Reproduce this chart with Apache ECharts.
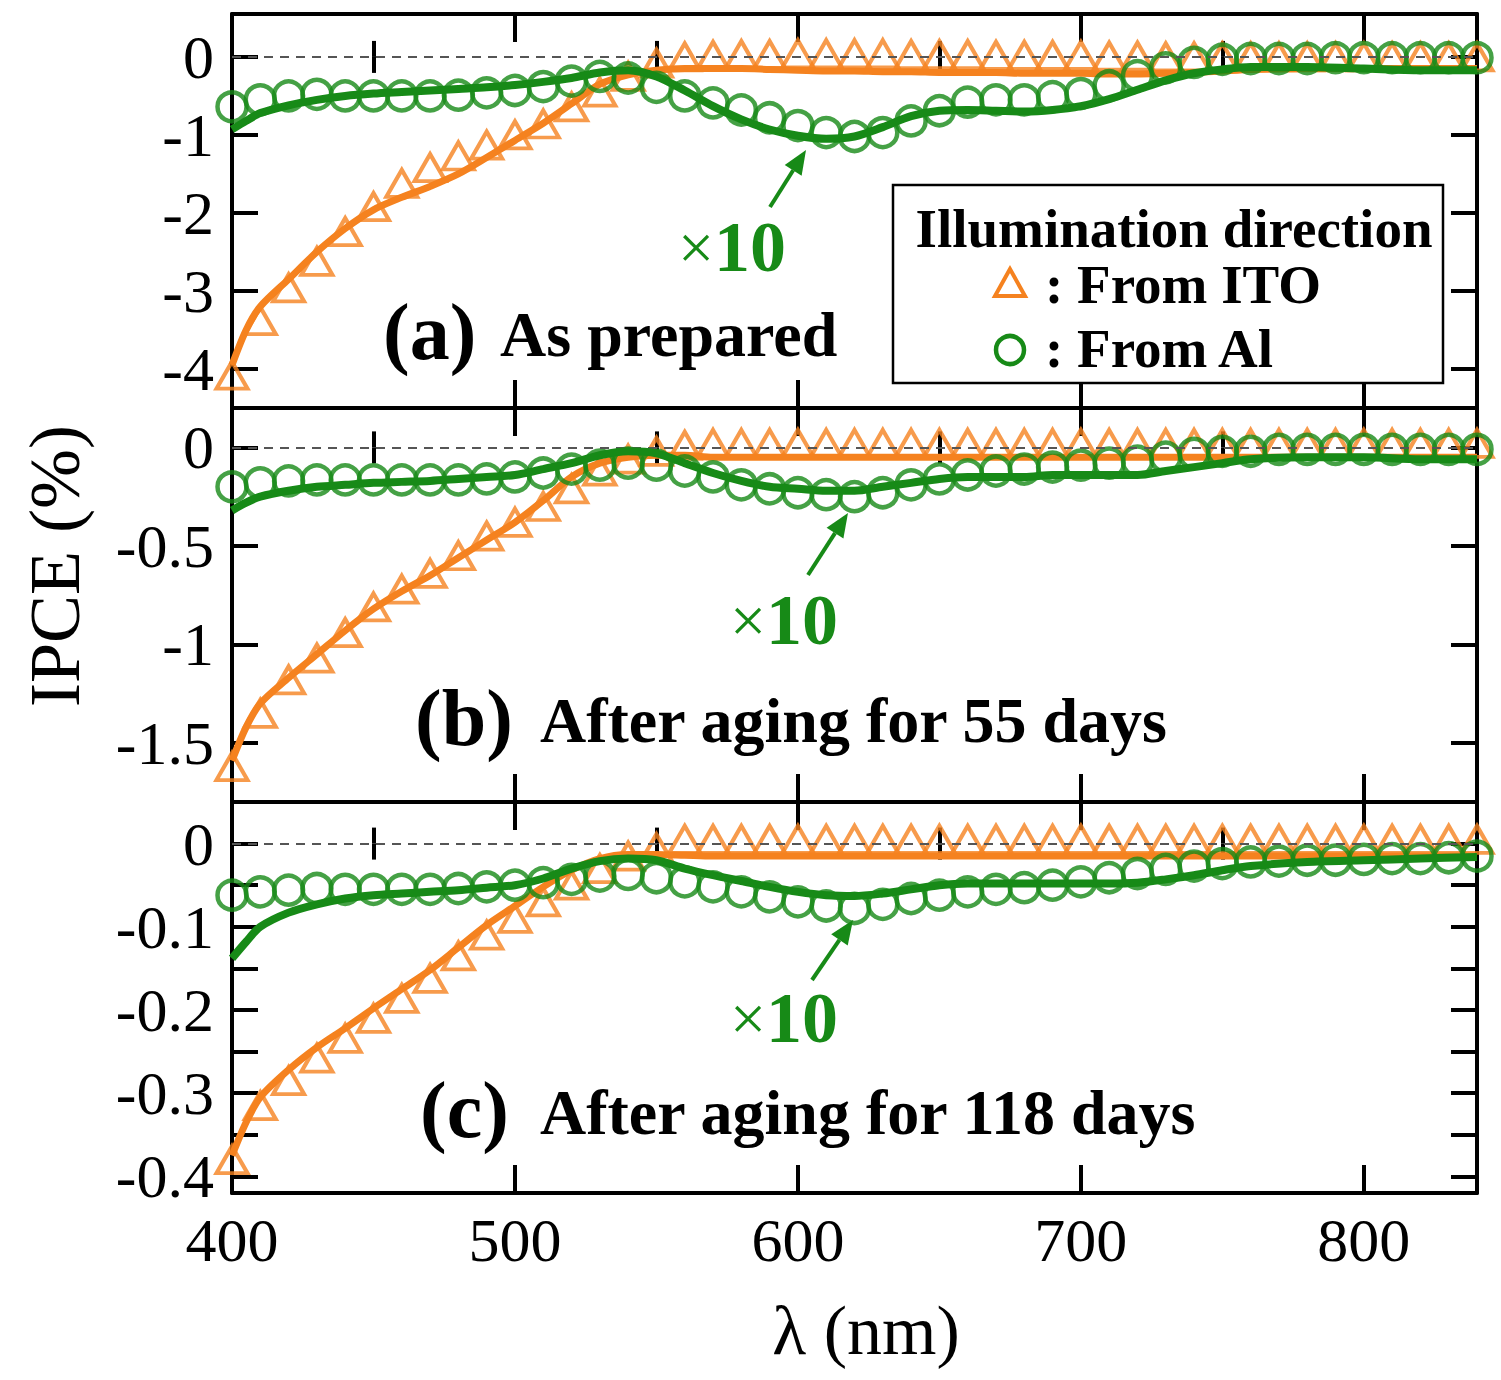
<!DOCTYPE html>
<html>
<head>
<meta charset="utf-8">
<title>IPCE spectra</title>
<script src="https://cdn.jsdelivr.net/npm/echarts@6/dist/echarts.min.js"></script>
<style>
  html, body { margin: 0; padding: 0; background: #fff; }
  #main { width: 1501px; height: 1380px; }
</style>
</head>
<body>
<div id="main"></div>
<script>
// wavelength of measured points (nm)
var pointNm = [400,410,420,430,440,450,460,470,480,490,500,510,520,530,540,550,560,570,580,590,
  600,610,620,630,640,650,660,670,680,690,700,710,720,730,740,750,760,770,780,790,800,810,820,830,840];
// wavelength of calculated curves (nm)
var curveNm = [400,405,410,420,430,440,450,460,470,480,490,500,510,520,530,540,550,560,570,580,590,
  600,610,620,630,640,650,660,670,680,690,700,710,720,730,740,750,760,780,800,820,840];

// (a) as prepared
var aItoPts = [-4.08,-3.38,-2.96,-2.62,-2.24,-1.92,-1.62,-1.42,-1.27,-1.13,
  -1.00,-0.86,-0.64,-0.45,-0.25,-0.08,0.00,0.02,0.03,0.03,
  0.04,0.04,0.04,0.04,0.03,0.03,0.03,0.02,0.02,0.02,
  0.02,0.01,0.01,0.00,0.00,0.00,0.00,0.00,0.00,0.00,
  0.00,0.00,0.00,0.00,0.00];
var aAlPts = [-0.64,-0.55,-0.50,-0.48,-0.50,-0.50,-0.50,-0.50,-0.49,-0.46,
  -0.43,-0.38,-0.31,-0.25,-0.27,-0.39,-0.50,-0.59,-0.68,-0.78,
  -0.88,-0.97,-1.02,-0.97,-0.82,-0.69,-0.58,-0.55,-0.55,-0.51,
  -0.47,-0.37,-0.24,-0.14,-0.07,-0.03,-0.02,-0.02,-0.02,-0.01,
  -0.01,-0.01,-0.01,-0.01,-0.01];
var aItoFit = [-3.95,-3.50,-3.20,-2.85,-2.50,-2.20,-1.96,-1.80,-1.66,-1.50,-1.29,-1.07,-0.85,-0.60,-0.35,-0.23,
  -0.17,-0.15,-0.15,-0.15,-0.16,-0.17,-0.18,-0.18,-0.19,-0.19,-0.20,-0.20,-0.20,-0.21,-0.21,-0.21,
  -0.22,-0.22,-0.21,-0.20,-0.18,-0.16,-0.15,-0.15,-0.15,-0.15];
var aAlFit = [-0.93,-0.82,-0.72,-0.62,-0.55,-0.50,-0.47,-0.45,-0.43,-0.41,-0.39,-0.36,-0.32,-0.27,-0.20,-0.17,
  -0.25,-0.43,-0.63,-0.80,-0.93,-1.01,-1.05,-1.02,-0.90,-0.76,-0.69,-0.68,-0.69,-0.70,-0.68,-0.63,
  -0.54,-0.42,-0.30,-0.21,-0.16,-0.13,-0.13,-0.15,-0.17,-0.17];

// (b) after aging for 55 days
var bItoPts = [-1.62,-1.35,-1.18,-1.07,-0.94,-0.81,-0.72,-0.64,-0.55,-0.45,
  -0.38,-0.30,-0.21,-0.12,-0.06,-0.02,0.01,0.02,0.02,0.02,
  0.02,0.02,0.02,0.02,0.02,0.02,0.02,0.02,0.02,0.02,
  0.02,0.02,0.02,0.02,0.02,0.02,0.02,0.02,0.02,0.02,
  0.02,0.02,0.02,0.02,0.02];
var bAlPts = [-0.20,-0.18,-0.17,-0.165,-0.165,-0.165,-0.165,-0.165,-0.165,-0.16,
  -0.15,-0.13,-0.11,-0.09,-0.08,-0.09,-0.12,-0.15,-0.19,-0.21,
  -0.23,-0.24,-0.25,-0.23,-0.19,-0.16,-0.14,-0.12,-0.11,-0.10,
  -0.09,-0.08,-0.07,-0.05,-0.03,-0.02,-0.02,-0.01,-0.01,-0.01,
  -0.01,-0.01,-0.01,-0.01,-0.01];
var bItoFit = [-1.59,-1.42,-1.30,-1.17,-1.05,-0.93,-0.82,-0.73,-0.65,-0.56,-0.47,-0.38,-0.27,-0.15,-0.08,-0.05,
  -0.04,-0.04,-0.05,-0.05,-0.05,-0.05,-0.05,-0.05,-0.05,-0.05,-0.05,-0.05,-0.05,-0.05,-0.05,-0.05,
  -0.05,-0.05,-0.05,-0.05,-0.05,-0.05,-0.05,-0.05,-0.05,-0.05];
var bAlFit = [-0.32,-0.28,-0.25,-0.22,-0.20,-0.19,-0.18,-0.175,-0.17,-0.16,-0.15,-0.14,-0.11,-0.08,-0.04,-0.02,
  -0.03,-0.08,-0.13,-0.17,-0.20,-0.21,-0.22,-0.22,-0.20,-0.18,-0.16,-0.15,-0.15,-0.15,-0.14,-0.14,
  -0.14,-0.14,-0.12,-0.10,-0.08,-0.06,-0.05,-0.05,-0.06,-0.06];

// (c) after aging for 118 days
var cItoPts = [-0.380,-0.315,-0.285,-0.258,-0.234,-0.210,-0.186,-0.162,-0.135,-0.110,
  -0.090,-0.070,-0.050,-0.030,-0.015,-0.005,0.005,0.005,0.005,0.005,
  0.005,0.005,0.005,0.005,0.005,0.005,0.005,0.005,0.005,0.005,
  0.005,0.005,0.005,0.005,0.005,0.005,0.005,0.005,0.005,0.005,
  0.005,0.005,0.005,0.005,0.005];
var cAlPts = [-0.062,-0.058,-0.056,-0.054,-0.055,-0.055,-0.055,-0.055,-0.054,-0.052,
  -0.050,-0.047,-0.043,-0.039,-0.037,-0.041,-0.046,-0.052,-0.058,-0.064,
  -0.070,-0.075,-0.078,-0.073,-0.066,-0.062,-0.058,-0.055,-0.053,-0.050,
  -0.046,-0.041,-0.036,-0.031,-0.027,-0.024,-0.022,-0.021,-0.020,-0.020,
  -0.019,-0.018,-0.018,-0.017,-0.015];
var cItoFit = [-0.375,-0.335,-0.305,-0.272,-0.245,-0.222,-0.198,-0.175,-0.152,-0.125,-0.098,-0.075,-0.052,-0.032,-0.018,-0.013,
  -0.013,-0.014,-0.015,-0.015,-0.015,-0.015,-0.015,-0.015,-0.015,-0.015,-0.015,-0.015,-0.015,-0.015,-0.015,-0.015,
  -0.015,-0.015,-0.015,-0.015,-0.015,-0.015,-0.015,-0.015,-0.015,-0.015];
var cAlFit = [-0.138,-0.118,-0.100,-0.083,-0.073,-0.066,-0.062,-0.060,-0.058,-0.056,-0.053,-0.050,-0.042,-0.030,-0.021,-0.018,
  -0.020,-0.030,-0.038,-0.045,-0.052,-0.058,-0.062,-0.063,-0.060,-0.055,-0.050,-0.048,-0.048,-0.048,-0.048,-0.048,
  -0.048,-0.047,-0.043,-0.038,-0.032,-0.027,-0.022,-0.020,-0.018,-0.016];

// tick values
var xLabels = [400, 500, 600, 700, 800];
var xMajor = [400, 500, 600, 700, 800];
var xMinor = [450, 550, 650, 750];
var aTicks = [0, -1, -2, -3, -4];
var bTicks = [0, -0.5, -1, -1.5];
var cLabels = [0, -0.1, -0.2, -0.3, -0.4];
var cTicks = [0, -0.05, -0.1, -0.15, -0.2, -0.25, -0.3, -0.35, -0.4];

var panelTags = ['(a)', '(b)', '(c)'];
var panelTitles = ['As prepared', 'After aging for 55 days', 'After aging for 118 days'];

var ORANGE = '#f5821f';
var GREEN = '#178a17';
var SERIF = "'Liberation Serif', 'Times New Roman', serif";

function pairs(xs, ys) {
  return xs.map(function (x, i) { return [x, ys[i]]; });
}

var grids = [
  { left: 232, top: 14, width: 1245, height: 394 },
  { left: 232, top: 408, width: 1245, height: 394 },
  { left: 232, top: 802, width: 1245, height: 391 }
];
var yRange = [[-4.5, 0.55], [-1.8, 0.2], [-0.42, 0.05]];
var yTickSets = [aTicks, bTicks, cTicks];
var yLabelSets = [aTicks, bTicks, cLabels];

var blackLine = { color: '#000', width: 4 };

function xAxesFor(i) {
  var list = [];
  ['bottom', 'top'].forEach(function (pos) {
    list.push({
      type: 'value', gridIndex: i, position: pos, min: 400, max: 840,
      axisLine: { onZero: false, lineStyle: blackLine },
      axisTick: { inside: true, length: 28, customValues: xMajor, lineStyle: blackLine },
      axisLabel: {
        show: i === 2 && pos === 'bottom', customValues: xLabels, margin: 16,
        color: '#000', fontSize: 62, fontFamily: SERIF
      },
      splitLine: { show: false }
    });
    list.push({
      type: 'value', gridIndex: i, position: pos, min: 400, max: 840,
      axisLine: { show: false },
      axisTick: { inside: true, length: 16, customValues: xMinor, lineStyle: blackLine },
      axisLabel: { show: false },
      splitLine: { show: false }
    });
  });
  return list;
}

function yAxesFor(i) {
  return ['left', 'right'].map(function (pos) {
    return {
      type: 'value', gridIndex: i, position: pos,
      min: yRange[i][0], max: yRange[i][1],
      axisLine: { onZero: false, lineStyle: blackLine },
      axisTick: { inside: true, length: 26, customValues: yTickSets[i], lineStyle: blackLine },
      axisLabel: {
        show: pos === 'left', customValues: yLabelSets[i], margin: 18,
        color: '#000', fontSize: 62, fontFamily: SERIF
      },
      splitLine: { show: false }
    };
  });
}

function panelSeries(i, itoPts, alPts, itoFit, alFit) {
  return [
    {
      type: 'scatter', name: 'From ITO', xAxisIndex: i * 4, yAxisIndex: i * 2,
      data: pairs(pointNm, itoPts), symbol: 'triangle', symbolSize: [31, 27],
      itemStyle: { color: 'rgba(255,255,255,0)', borderColor: ORANGE, borderWidth: 4 },
      clip: false, z: 2, silent: true,
      markLine: {
        silent: true, symbol: ['none', 'none'], label: { show: false },
        lineStyle: { type: [9, 7], color: '#555', width: 2 },
        data: [{ yAxis: 0 }]
      }
    },
    {
      type: 'line', xAxisIndex: i * 4, yAxisIndex: i * 2,
      data: pairs(curveNm, itoFit), showSymbol: false, smooth: 0.3,
      lineStyle: { color: ORANGE, width: 7 }, z: 3, silent: true
    },
    {
      type: 'scatter', name: 'From Al', xAxisIndex: i * 4, yAxisIndex: i * 2,
      data: pairs(pointNm, alPts), symbol: 'circle', symbolSize: 29,
      itemStyle: { color: 'rgba(255,255,255,0)', borderColor: GREEN, borderWidth: 4.5 },
      clip: false, z: 4, silent: true
    },
    {
      type: 'line', xAxisIndex: i * 4, yAxisIndex: i * 2,
      data: pairs(curveNm, alFit), showSymbol: false, smooth: 0.3,
      lineStyle: { color: GREEN, width: 8 }, z: 5, silent: true
    }
  ];
}

function arrow(x1, y1, x2, y2) {
  var dx = x2 - x1, dy = y2 - y1;
  var len = Math.sqrt(dx * dx + dy * dy);
  var ux = dx / len, uy = dy / len;
  var bx = x2 - ux * 24, by = y2 - uy * 24;
  return [
    { type: 'line', shape: { x1: x1, y1: y1, x2: bx, y2: by }, style: { stroke: GREEN, lineWidth: 4 }, z: 50 },
    { type: 'polygon', shape: { points: [[x2, y2], [bx - uy * 10, by + ux * 10], [bx + uy * 10, by - ux * 10]] },
      style: { fill: GREEN }, z: 50 }
  ];
}

function times10(cx, cy) {
  return {
    type: 'text', x: cx, y: cy, z: 50,
    style: {
      text: '{m|×}{n|10}', align: 'center', verticalAlign: 'middle',
      rich: {
        m: { fontSize: 64, fontFamily: SERIF, fill: GREEN },
        n: { fontSize: 72, fontFamily: SERIF, fontWeight: 'bold', fill: GREEN }
      }
    }
  };
}

function panelLabel(i, tagX, titleX, cy) {
  return [
    { type: 'text', x: tagX, y: cy, z: 50,
      style: { text: panelTags[i], font: 'bold 80px ' + SERIF, fill: '#000', align: 'left', verticalAlign: 'middle' } },
    { type: 'text', x: titleX, y: cy + 2, z: 50,
      style: { text: panelTitles[i], font: 'bold 64px ' + SERIF, fill: '#000', align: 'left', verticalAlign: 'middle' } }
  ];
}

var graphics = []
  .concat(panelLabel(0, 383, 500, 332))
  .concat(panelLabel(1, 415, 540, 718))
  .concat(panelLabel(2, 420, 540, 1110))
  .concat(arrow(770, 207, 806, 150))
  .concat(arrow(808, 575, 848, 513))
  .concat(arrow(812, 980, 853, 920))
  .concat([times10(732, 247), times10(784, 620), times10(784, 1018)])
  .concat([
    // legend box
    { type: 'rect', shape: { x: 893, y: 185, width: 550, height: 198 },
      style: { fill: '#fff', stroke: '#000', lineWidth: 2.5 }, z: 60 },
    { type: 'text', x: 1174, y: 228, z: 61,
      style: { text: 'Illumination direction', font: 'bold 55px ' + SERIF, fill: '#000', align: 'center', verticalAlign: 'middle' } },
    { type: 'polygon', shape: { points: [[1010, 269], [995, 296], [1025, 296]] },
      style: { fill: 'none', stroke: ORANGE, lineWidth: 4 }, z: 61 },
    { type: 'text', x: 1045, y: 284, z: 61,
      style: { text: ': From ITO', font: 'bold 55px ' + SERIF, fill: '#000', align: 'left', verticalAlign: 'middle' } },
    { type: 'circle', shape: { cx: 1010, cy: 350, r: 14 },
      style: { fill: 'none', stroke: GREEN, lineWidth: 4.5 }, z: 61 },
    { type: 'text', x: 1045, y: 348, z: 61,
      style: { text: ': From Al', font: 'bold 55px ' + SERIF, fill: '#000', align: 'left', verticalAlign: 'middle' } },
    // axis titles
    { type: 'text', x: 55, y: 566, rotation: Math.PI / 2, z: 50,
      style: { text: 'IPCE (%)', font: '72px ' + SERIF, fill: '#000', align: 'center', verticalAlign: 'middle' } },
    { type: 'text', x: 866, y: 1330, z: 50,
      style: { text: 'λ (nm)', font: '70px ' + SERIF, fill: '#000', align: 'center', verticalAlign: 'middle' } }
  ]);

var chart = echarts.init(document.getElementById('main'), null, { renderer: 'svg' });
chart.setOption({
  animation: false,
  backgroundColor: '#fff',
  grid: grids,
  xAxis: xAxesFor(0).concat(xAxesFor(1), xAxesFor(2)),
  yAxis: yAxesFor(0).concat(yAxesFor(1), yAxesFor(2)),
  series: []
    .concat(panelSeries(0, aItoPts, aAlPts, aItoFit, aAlFit))
    .concat(panelSeries(1, bItoPts, bAlPts, bItoFit, bAlFit))
    .concat(panelSeries(2, cItoPts, cAlPts, cItoFit, cAlFit)),
  graphic: graphics
});
</script>
</body>
</html>
